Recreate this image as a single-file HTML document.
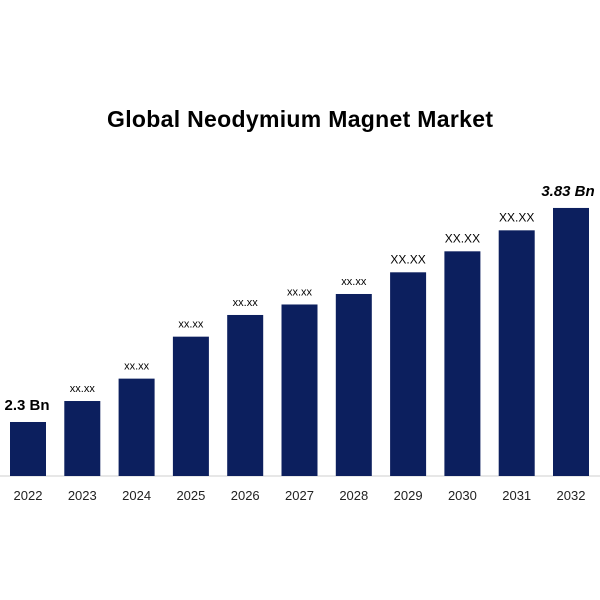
<!DOCTYPE html>
<html><head><meta charset="utf-8"><style>
html,body{margin:0;padding:0;background:#fff;width:600px;height:600px;overflow:hidden}
svg{display:block}
</style></head><body>
<svg id="chart" width="600" height="600" viewBox="0 0 600 600">
<text x="300" y="127" text-anchor="middle" font-family="Liberation Sans, sans-serif" font-weight="bold" font-size="23" fill="#000" textLength="386">Global Neodymium Magnet Market</text>
<line x1="0" y1="476" x2="600" y2="476" stroke="#cfcfcf" stroke-width="1"/>
<g id="bars"></g>
</svg>
<script>
const categories = ["2022","2023","2024","2025","2026","2027","2028","2029","2030","2031","2032"];
const values = [2.3, 2.45, 2.61, 2.91, 3.065, 3.14, 3.215, 3.37, 3.52, 3.67, 3.83];
const valueLabels = ["2.3 Bn","xx.xx","xx.xx","xx.xx","xx.xx","xx.xx","xx.xx","XX.XX","XX.XX","XX.XX","3.83 Bn"];

const baseY = 476, vMin = 1.914, k = 139.9;
function y(v){ return baseY - (v - vMin) * k; }
function xCenter(i){ return 28 + i * 54.3; }
const barW = 36;
const ns = "http://www.w3.org/2000/svg";
const g = document.getElementById('bars');
categories.forEach((c, i) => {
  const top = y(values[i]);
  const r = document.createElementNS(ns, 'rect');
  r.setAttribute('x', xCenter(i) - barW/2);
  r.setAttribute('y', top);
  r.setAttribute('width', barW);
  r.setAttribute('height', baseY - top);
  r.setAttribute('fill', '#0c1f5e');
  
  
  g.appendChild(r);

  const t = document.createElementNS(ns, 'text');
  t.setAttribute('x', xCenter(i));
  t.setAttribute('y', 500);
  t.setAttribute('text-anchor', 'middle');
  t.setAttribute('font-family', 'Liberation Sans, sans-serif');
  t.setAttribute('font-size', '13');
  t.setAttribute('fill', '#222');
  t.textContent = c;
  
  
  g.appendChild(t);

  const lbl = document.createElementNS(ns, 'text');
  const big = (i === 0 || i === categories.length - 1);
  const upper = valueLabels[i] === 'XX.XX';
  lbl.setAttribute('x', i === categories.length - 1 ? xCenter(i) - 3 : xCenter(i) + (i===0?-1:0));
  lbl.setAttribute('y', top - (big ? 12 : 9));
  lbl.setAttribute('text-anchor', 'middle');
  lbl.setAttribute('font-family', 'Liberation Sans, sans-serif');
  lbl.setAttribute('font-size', big ? '15' : (upper ? '12' : '11'));
  if (big) lbl.setAttribute('font-weight', 'bold');
  if (i === categories.length - 1) lbl.setAttribute('font-style', 'italic');
  lbl.setAttribute('fill', '#000');
  lbl.textContent = valueLabels[i];
  
  
  g.appendChild(lbl);
});
</script>
</body></html>
